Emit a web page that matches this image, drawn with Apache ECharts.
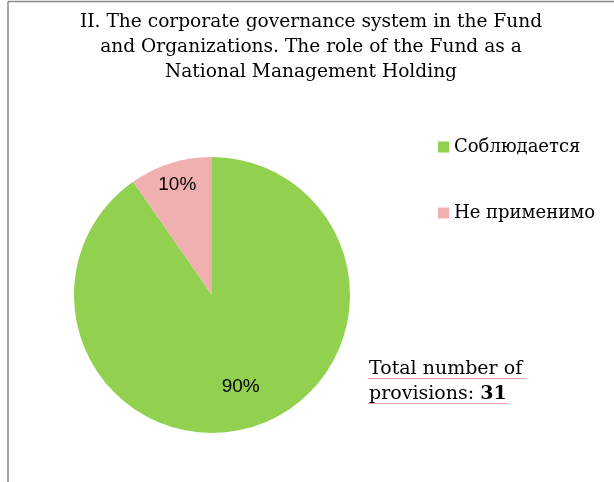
<!DOCTYPE html>
<html>
<head>
<meta charset="utf-8">
<script src="https://cdn.jsdelivr.net/npm/echarts@6/dist/echarts.min.js"></script>
<style>
  html, body { margin: 0; padding: 0; background: #fff; }
  #chart { width: 614px; height: 482px; }
</style>
</head>
<body>
<div id="chart"></div>
<script>
// Compliance status of the provisions in section II
const categories = ['Соблюдается', 'Не применимо'];
const provisionCounts = [28, 3];
const sliceColors = ['#92D050', '#F0B0B0'];
const totalProvisions = 31;
const titleText = 'II. The corporate governance system in the Fund\nand Organizations. The role of the Fund as a\nNational Management Holding';

const serif = '"DejaVu Serif", "Liberation Serif", serif';
const sans = '"Liberation Sans", Arial, sans-serif';

const center = [212, 295];
const radius = 138;

const pieData = categories.map((name, i) => ({
  name: name,
  value: provisionCounts[i],
  itemStyle: { color: sliceColors[i] }
}));

// Transparent overlay rings used only to place each percentage label
function labelRing(innerR, showIndex) {
  return {
    type: 'pie',
    silent: true,
    center: center,
    radius: [innerR, radius],
    startAngle: 90,
    clockwise: true,
    percentPrecision: 0,
    legendHoverLink: false,
    itemStyle: { color: 'transparent' },
    emphasis: { disabled: true },
    labelLine: { show: false },
    data: categories.map((name, i) => ({
      name: name,
      value: provisionCounts[i],
      itemStyle: { color: 'transparent' },
      label: {
        show: i === showIndex,
        position: 'inside',
        formatter: '{d}%',
        color: '#000',
        fontFamily: sans,
        fontSize: 19
      }
    }))
  };
}

const chart = echarts.init(document.getElementById('chart'), null, { renderer: 'canvas' });
chart.setOption({
  backgroundColor: '#fff',
  animation: false,
  title: {
    text: titleText,
    left: 306,
    top: 5,
    textAlign: 'center',
    textStyle: {
      fontFamily: serif,
      fontWeight: 'normal',
      fontSize: 18.6,
      lineHeight: 25,
      color: '#000'
    }
  },
  legend: {
    orient: 'vertical',
    left: 433,
    top: 133,
    itemGap: 48,
    itemWidth: 11,
    itemHeight: 11,
    icon: 'rect',
    data: categories,
    textStyle: { fontFamily: serif, fontSize: 18, color: '#000' }
  },
  series: [
    {
      type: 'pie',
      center: center,
      radius: radius,
      startAngle: 90,
      clockwise: true,
      label: { show: false },
      labelLine: { show: false },
      emphasis: { disabled: true },
      data: pieData
    },
    labelRing(88, 1),
    labelRing(48, 0)
  ],
  graphic: [
    { type: 'line', shape: { x1: 8, y1: 1.5, x2: 614, y2: 1.5 }, style: { stroke: '#8a8a8a', lineWidth: 1.5 } },
    { type: 'line', shape: { x1: 8, y1: 1.5, x2: 8, y2: 482 }, style: { stroke: '#8a8a8a', lineWidth: 1.5 } },
    {
      type: 'text',
      left: 369,
      top: 357,
      style: {
        text: 'Total number of\nprovisions: {b|' + totalProvisions + '}',
        fontFamily: serif,
        fontSize: 19,
        lineHeight: 25,
        fill: '#000',
        rich: { b: { fontFamily: serif, fontSize: 19, fontWeight: 'bold', fill: '#000' } }
      }
    },
    { type: 'line', shape: { x1: 368, y1: 378.5, x2: 526, y2: 378.5 }, style: { stroke: '#f5a3a3', lineWidth: 1 } },
    { type: 'line', shape: { x1: 368, y1: 403.5, x2: 508, y2: 403.5 }, style: { stroke: '#f5a3a3', lineWidth: 1 } }
  ]
});
</script>
</body>
</html>
